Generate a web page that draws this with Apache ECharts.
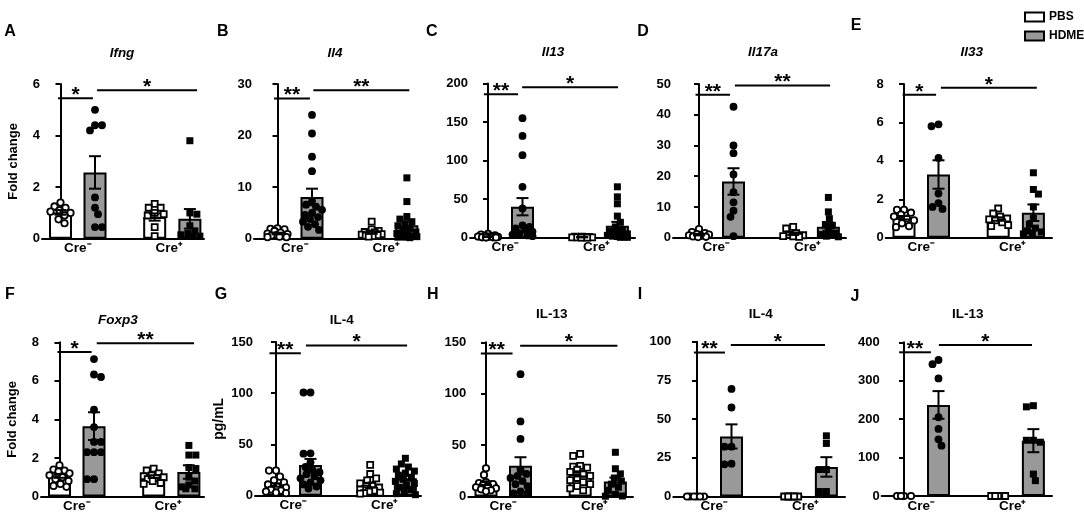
<!DOCTYPE html>
<html><head><meta charset="utf-8">
<script src="https://cdn.jsdelivr.net/npm/echarts@6/dist/echarts.min.js"></script>
<style>html,body{margin:0;padding:0;background:#fff}#c{width:1084px;height:515px}</style>
</head><body><div id="c"></div>
<script>
// ---------------- DATA ----------------
const seriesNames = ['PBS', 'HDME'];
const xLabels = ['Cre⁻', 'Cre⁺'];
const panelLetters = ['A','B','C','D','E','F','G','H','I','J'];
const panelTitles = ['Ifng','Il4','Il13','Il17a','Il33','Foxp3','IL-4','IL-13','IL-4','IL-13'];
const titleItalic = [true,true,true,true,true,true,false,false,false,false];
const yNames = ['Fold change','','','','','Fold change','pg/mL','','',''];
const yMax = [6, 30, 200, 50, 8, 8, 150, 150, 100, 400];
const yInterval = [2, 10, 50, 10, 2, 2, 50, 50, 25, 100];
// group order: PBS Cre-, HDME Cre-, PBS Cre+, HDME Cre+
const means = [
  [1.02, 2.57, 0.84, 0.77],
  [1.0, 8.1, 1.2, 2.6],
  [1.2, 40.2, 0.6, 15.5],
  [1.0, 18.3, 1.3, 3.6],
  [1.04, 3.29, 0.97, 1.3],
  [1.07, 3.65, 1.03, 1.27],
  [10.4, 30, 10.4, 17],
  [13, 29.8, 22, 14.6],
  [0, 38.8, 0, 19.1],
  [0, 237, 0, 144]
];
const sems = [
  [0.09, 0.63, 0.14, 0.38],
  [0.15, 1.6, 0.25, 0.75],
  [0.4, 11.2, 0.15, 5],
  [0.25, 4.3, 0.4, 1.3],
  [0.09, 0.74, 0.09, 0.43],
  [0.1, 0.72, 0.07, 0.35],
  [1.6, 5.9, 2.2, 2.4],
  [1.8, 8.4, 2.5, 3.8],
  [0, 7.8, 0, 6.3],
  [0, 36, 0, 30]
];
const ptsA = [[1.4,1.25,1.2,1.1,1.05,1.0,0.9,0.75,0.6],[5.0,4.4,4.4,4.2,1.6,1.2,0.95,0.45,0.45],[1.35,1.2,1.2,1.0,0.95,0.9,0.45,0.1],[3.8,1.0,0.95,0.5,0.3,0.2,0.15,0.1,0.1]];
const ptsB = [[2.0,1.9,1.8,1.5,1.2,1.0,0.9,0.7,0.6,0.5,0.4,0.3,0.3],[24,20.4,15.9,13.1,7.3,6.6,6.2,5.6,5.0,4.6,4.2,3.8,3.3,2.8,2.3,1.7],[3.3,1.8,1.5,1.3,1.2,1.0,0.9,0.8,0.7,0.6,0.5,0.4],[11.8,7.2,4.3,3.8,3.3,2.9,2.5,2.0,1.6,1.3,1.0,0.8,0.6,0.5,0.4,0.3,0.3,0.2]];
const ptsC = [[5,4,3,2.5,2,1.5,1,1,0.5,0.5,0.3,0.2],[155,132,107,66,38,16,14,12,10,8,6,4,3,2],[1.5,1.2,1,0.8,0.6,0.5,0.4,0.3,0.2,0.2],[66,53,44,28,20,14,10,8,6,5,4,3,2,1.5,1,0.5,0.5]];
const ptsD = [[2.8,1.8,1.5,1.2,1.0,0.8,0.6,0.4,0.3,0.2],[42.6,30,27.5,20.6,14.8,11.5,8.8,6.8,0.5],[3.5,3.0,1.5,1.0,0.8,0.5,0.4,0.3],[13.1,8.4,6.2,4.3,4.0,2.0,1.5,1.0,0.8,0.5,0.3]];
const ptsE = [[1.45,1.45,1.3,1.2,1.1,1.0,0.9,0.75,0.6,0.55],[5.9,5.8,4.15,2.3,1.8,1.6,1.5],[1.52,1.26,1.1,1.0,0.95,0.9,0.8,0.65,0.6],[3.38,2.51,2.27,1.6,1.0,0.7,0.5,0.35,0.3,0.25,0.2]];
const ptsF = [[1.62,1.4,1.35,1.3,1.2,1.1,1.0,0.9,0.8,0.65,0.55,0.5],[7.13,6.33,6.2,4.5,3.6,2.83,2.83,2.3,2.3,2.3,0.9,0.9],[1.45,1.35,1.2,1.1,1.05,1.0,0.95,0.9,0.8,0.7,0.65],[2.65,2.15,2.15,1.5,1.45,1.0,0.8,0.6,0.5,0.4,0.4]];
const ptsG = [[24.5,24.5,18.6,15,13,11,9,8,6,5,4,3,2.5],[100.7,100.7,41.4,41,32.6,28,25,23,21,19,17,15,13,11,9,7],[30,21.2,17,15,12,10,8,7,6,5,4,3,2.5,2],[36.5,31,28,26,24,22,20,18,16,14,12,10,8,6,4,2,1]];
const ptsH = [[27.5,21,14,13,12,11,10,9,8,7,6,5],[119,73,56,26,22,20,18,15,12,10,5,3,3],[41.5,39.5,29.8,29,28,26,24,22,20,18,16,14,12,10,8,6],[43,27,22,18,15,12,9,6,2,0.5,0.3]];
const ptsI = [[0,0,0,0,0,0],[69.5,57.5,32.2,32.2,20.8,21.2],[0,0,0,0,0],[39.2,34.3,17.4,17.4,3.2,3.2]];
const ptsJ = [[0,0,0,0],[354,343,306,205,174.5,147.6,131],[0,0,0,0],[235,232,145,145,140,57,40]];
const points = [ptsA, ptsB, ptsC, ptsD, ptsE, ptsF, ptsG, ptsH, ptsI, ptsJ];
const stars = [['*','*'],['**','**'],['**','*'],['**','**'],['*','*'],['*','**'],['**','*'],['**','*'],['**','*'],['**','*']];
const sigLevels = [[5.45,5.76],[27.2,28.8],[186,195],[46.5,49.5],[7.44,7.8],[7.5,7.95],[139,146.7],[139,146.7],[93,97.8],[374,393]];

// ---------------- LAYOUT ----------------
const U = 34.5;               // px per group unit
const groupPos = [0, 1, 2.73, 3.75];
const labelPos = [0.5, 3.15];
const panels = [
  {left:42,   c0:60.5,  end:204,  top:84,    zero:238.7},
  {left:254,  c0:277.5, end:418,  top:84,    zero:238.7},
  {left:470,  c0:488,   end:635,  top:83.5,  zero:237.7},
  {left:673,  c0:699,   end:846,  top:84,    zero:237.7},
  {left:885.7,c0:904,   end:1052, top:84,    zero:237.7},
  {left:41,   c0:59.5,  end:204,  top:342.3, zero:496.5},
  {left:255,  c0:276,   end:421,  top:342,   zero:495.7},
  {left:468.3,c0:486,   end:633,  top:342.3, zero:496.5},
  {left:673.3,c0:697,   end:845,  top:341.7, zero:496.5},
  {left:881.7,c0:904,   end:1052, top:342.3, zero:496}
];
const sigX = [[-0.07,0.94,1.06,3.96],[-0.1,0.94,1.04,3.82],[-0.12,0.87,0.99,3.77],[-0.1,0.9,1.04,3.8],[-0.04,0.93,1.07,3.85],
              [-0.06,0.93,1.08,3.9],[-0.19,0.72,0.87,3.8],[-0.15,0.77,0.99,3.81],[-0.09,0.81,0.98,3.71],[-0.14,0.78,1.01,3.71]];
const letterXY = [[10,32],[222.7,32],[431.7,32],[643,32],[856,26],[10,295],[221,295],[432.7,295],[640,295],[855,297]];
const titleXY = [[122,53],[335,53],[553,52],[763,52],[971.7,52.7],[118,320],[341.7,320],[551.7,314.3],[760.7,314],[967.7,314.3]];

const FONT = "'Liberation Sans', Arial, Helvetica, sans-serif";

function swarm(vals, pxPerVal) {
  const order = vals.map((v,i)=>i).sort((a,b)=>vals[b]-vals[a]);
  const placed = [], res = new Array(vals.length);
  const minD = 6.8, maxDx = 10.5;
  order.forEach((i, k) => {
    const y = vals[i]*pxPerVal;
    const sgn = (k % 2) ? -1 : 1;
    const cands = [0];
    for (let d = 1; d <= maxDx; d += 1) cands.push(sgn*d, -sgn*d);
    let best = 0, bestScore = -1;
    for (const dx of cands) {
      let md = Infinity;
      for (const p of placed) { const dd = Math.hypot(p[0]-dx, p[1]-y); if (dd < md) md = dd; }
      if (md >= minD) { best = dx; break; }
      if (md > bestScore) { bestScore = md; best = dx; }
    }
    placed.push([best, y]); res[i] = best;
  });
  return res;
}

const grids = [], xAxes = [], yAxes = [], series = [], graphics = [];
const axisLineStyle = {color:'#000', width:2};

panels.forEach((p, i) => {
  const h = p.zero - p.top;
  grids.push({left:p.left, top:p.top, width:p.end - p.left, height:h, containLabel:false});
  xAxes.push({
    type:'value', gridIndex:i, min:(p.left - p.c0)/U, max:(p.end - p.c0)/U,
    axisLine:{show:true, onZero:false, lineStyle:axisLineStyle},
    axisTick:{show:false}, splitLine:{show:false},
    axisLabel:{show:true, customValues:labelPos, margin:3, color:'#000', fontSize:13.5, fontWeight:'bold', fontFamily:FONT,
      formatter:(v) => v < 2 ? xLabels[0] : xLabels[1]}
  });
  yAxes.push({
    type:'value', gridIndex:i, min:0, max:yMax[i], interval:yInterval[i],
    name:yNames[i], nameLocation:'middle', nameGap: i === 6 ? 29 : 22,
    nameTextStyle:{color:'#000', fontSize: i === 6 ? 14 : 13, fontWeight:'bold', fontFamily:FONT},
    axisLine:{show:true, lineStyle:axisLineStyle},
    axisTick:{show:true, length:5, lineStyle:{color:'#000', width:2}},
    splitLine:{show:false},
    axisLabel:{margin:2, color:'#000', fontSize:13, fontWeight:'bold', fontFamily:FONT}
  });
  // bars
  [0,1].forEach(s => {
    series.push({
      type:'bar', name:seriesNames[s], xAxisIndex:i, yAxisIndex:i, barWidth:23, barGap:'-100%',
      data:[[groupPos[s], means[i][s]], [groupPos[s+2], means[i][s+2]]],
      itemStyle:{color: s ? '#999999' : '#ffffff', borderColor:'#000', borderWidth:2, opacity:1},
      z:2, silent:true
    });
  });
  // points
  const pxPerVal = h / yMax[i];
  points[i].forEach((vals, g) => {
    const dx = swarm(vals, pxPerVal);
    const open = (g % 2 === 0);
    const circle = g < 2;
    series.push({
      type:'scatter', name:'pts'+i+'_'+g, xAxisIndex:i, yAxisIndex:i,
      symbol: circle ? 'circle' : 'rect',
      symbolSize: open ? (circle ? 6.4 : 6) : (circle ? 7.8 : 7),
      data: vals.map((v, k) => [groupPos[g] + dx[k]/U, v]),
      itemStyle: open ? {color:'#fff', borderColor:'#000', borderWidth:1.8, opacity:1} : {color:'#000', opacity:1},
      z:3, silent:true
    });
  });
  // error bars
  series.push({
    type:'custom', name:'err'+i, xAxisIndex:i, yAxisIndex:i, z:4, silent:true, clip:false,
    data: groupPos.map((x, g) => [x, means[i][g], sems[i][g]]),
    renderItem:(params, api) => {
      const x = api.value(0), m = api.value(1), s = api.value(2);
      if (!(s > 0)) return null;
      const t = api.coord([x, m + s]), b = api.coord([x, Math.max(0, m - s)]);
      const hw = 6, st = {stroke:'#000', lineWidth:2};
      return {type:'group', children:[
        {type:'line', shape:{x1:t[0], y1:t[1], x2:b[0], y2:b[1]}, style:st},
        {type:'line', shape:{x1:t[0]-hw, y1:t[1], x2:t[0]+hw, y2:t[1]}, style:st},
        {type:'line', shape:{x1:b[0]-hw, y1:b[1], x2:b[0]+hw, y2:b[1]}, style:st}
      ]};
    }
  });
  // significance bars
  const sx = sigX[i];
  series.push({
    type:'custom', name:'sig'+i, xAxisIndex:i, yAxisIndex:i, z:5, silent:true, clip:false,
    data:[[sx[0], sx[1], sigLevels[i][0]], [sx[2], sx[3], sigLevels[i][1]]],
    renderItem:(params, api) => {
      const a = api.coord([api.value(0), api.value(2)]), b = api.coord([api.value(1), api.value(2)]);
      return {type:'group', children:[
        {type:'line', shape:{x1:a[0], y1:a[1], x2:b[0], y2:b[1]}, style:{stroke:'#000', lineWidth:2}},
        {type:'text', x:(a[0]+b[0])/2, y:a[1] - 3,
          style:{text:stars[i][params.dataIndex], align:'center', verticalAlign:'middle', fill:'#000',
                 fontSize:21, fontWeight:'bold', fontFamily:FONT}}
      ]};
    }
  });
  // letters and titles
  graphics.push({type:'text', x:letterXY[i][0], y:letterXY[i][1], silent:true,
    style:{text:panelLetters[i], align:'center', verticalAlign:'middle', fill:'#000', fontSize:16, fontWeight:'bold', fontFamily:FONT}});
  graphics.push({type:'text', x:titleXY[i][0], y:titleXY[i][1], silent:true,
    style:{text:panelTitles[i], align:'center', verticalAlign:'middle', fill:'#000', fontSize:13.5, fontWeight:'bold',
           fontStyle: titleItalic[i] ? 'italic' : 'normal', fontFamily:FONT}});
});

const chart = echarts.init(document.getElementById('c'), null, {renderer:'canvas'});
chart.setOption({
  animation:false,
  backgroundColor:'#fff',
  grid:grids, xAxis:xAxes, yAxis:yAxes, series:series, graphic:graphics,
  legend:{
    orient:'vertical', left:1019, top:6, itemWidth:19, itemHeight:9, itemGap:7, selectedMode:false,
    textStyle:{color:'#000', fontSize:12, fontWeight:'bold', fontFamily:FONT},
    data:[
      {name:'PBS', icon:'rect', itemStyle:{color:'#fff', borderColor:'#000', borderWidth:2}},
      {name:'HDME', icon:'rect', itemStyle:{color:'#999999', borderColor:'#000', borderWidth:2}}
    ]
  }
});
</script></body></html>
